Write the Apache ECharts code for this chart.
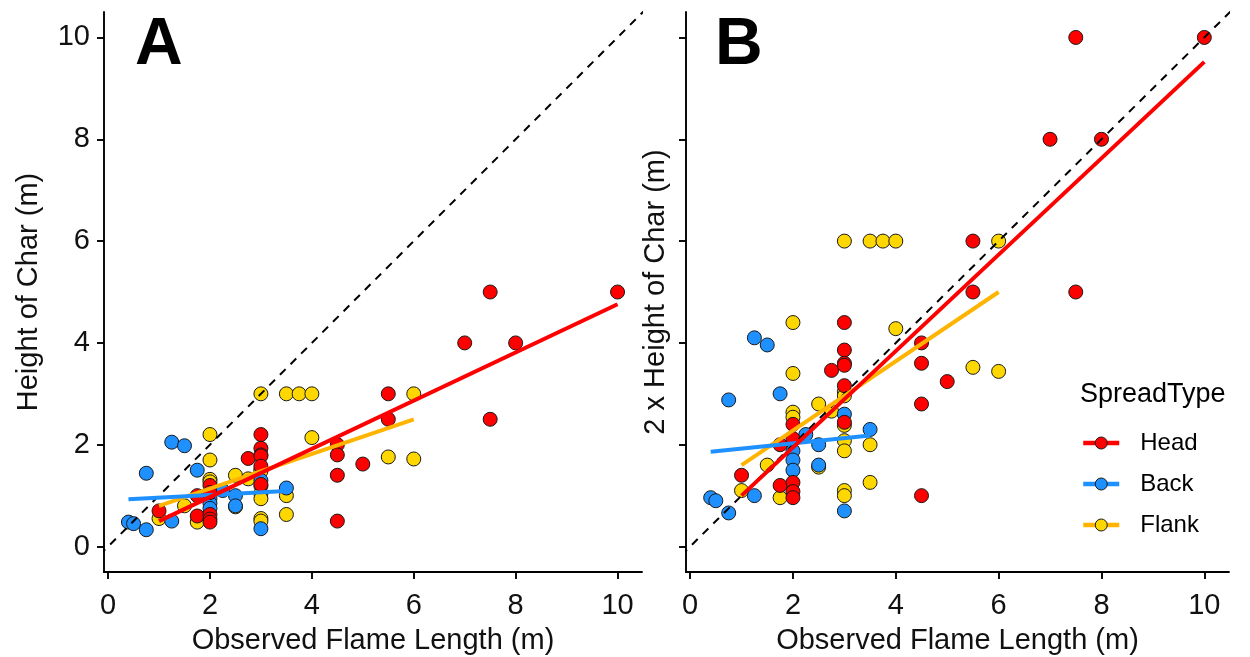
<!DOCTYPE html>
<html>
<head>
<meta charset="utf-8">
<script src="https://cdn.jsdelivr.net/npm/echarts@6/dist/echarts.min.js"></script>
<style>
html, body { margin: 0; padding: 0; background: #fff; }
#chart { width: 1250px; height: 657px; }
</style>
</head>
<body>
<div id="chart"></div>
<script>
// tick labels
var xTicks = [0, 2, 4, 6, 8, 10];
var yTicks = [0, 2, 4, 6, 8, 10];

// observed flame length (m) and height of char (m), by spread type
var headX = [1, 1.75, 1.75, 2, 2, 2, 2, 2, 2.75, 3, 3, 3, 3, 3, 3, 4.5, 4.5, 4.5, 4.5, 5, 5.5, 5.5, 7, 7.5, 7.5, 8, 10];
var headH = [0.7, 1.0, 0.6, 1.2, 1.06, 0.63, 0.54, 0.48, 1.73, 2.2, 1.93, 1.8, 1.78, 1.58, 1.22, 2.0, 1.8, 1.4, 0.5, 1.62, 3, 2.5, 4, 5, 2.5, 4, 5];

var backX = [0.4, 0.5, 0.75, 0.75, 1.25, 1.5, 1.25, 1.75, 2, 2, 2, 2.25, 2.5, 2.5, 3, 3, 3.5];
var backH = [0.48, 0.45, 0.33, 1.44, 2.05, 1.98, 0.5, 1.5, 0.94, 0.85, 0.75, 1.1, 1.0, 0.8, 1.3, 0.35, 1.15];

var flankX = [1, 1.5, 1.75, 2, 2, 2, 2, 2.5, 2.5, 2.75, 3, 3, 3, 3, 3, 3, 3, 3, 3.5, 3.75, 4, 3.5, 3.5, 4, 5.5, 6, 6];
var flankH = [0.55, 0.8, 0.48, 2.2, 1.7, 1.32, 1.27, 1.4, 0.78, 1.33, 3, 1.52, 1.48, 1.19, 1.04, 0.94, 0.55, 0.5, 3, 3, 3, 1.0, 0.63, 2.14, 1.76, 1.72, 3];

// linear fits (end points)
var headFitX = [1, 10];
var headFitH = [0.5, 4.76];
var backFitX = [0.4, 3.5];
var backFitH = [0.93, 1.09];
var flankFitX = [1, 6];
var flankFitH = [0.8, 2.5];

// 1:1 reference line
var refX = [-1, 12];

var font = "'Liberation Sans', Arial, sans-serif";

var groups = [
    {name: 'Flank', x: flankX, h: flankH, fx: flankFitX, fh: flankFitH, fill: '#FFD700', line: '#FFB400'},
    {name: 'Back', x: backX, h: backH, fx: backFitX, fh: backFitH, fill: '#1E90FF', line: '#1E90FF'},
    {name: 'Head', x: headX, h: headH, fx: headFitX, fh: headFitH, fill: '#FF0000', line: '#FF0000'}
];

function pairs(xs, hs, k) {
    return xs.map(function (x, i) { return [x, hs[i] * k]; });
}

function xAx(idx) {
    return {
        gridIndex: idx, type: 'value', min: -0.08, max: 10.48,
        name: 'Observed Flame Length (m)', nameLocation: 'middle', nameGap: 54,
        nameTextStyle: {fontSize: 29, color: '#111', fontFamily: font},
        axisLine: {onZero: false, lineStyle: {color: '#000', width: 1.9}},
        axisTick: {length: 7, customValues: xTicks, lineStyle: {color: '#000', width: 1.9}},
        axisLabel: {customValues: xTicks, fontSize: 29, color: '#111', margin: 19, fontFamily: font},
        splitLine: {show: false}
    };
}

function yAx(idx, title, gap, labels) {
    return {
        gridIndex: idx, type: 'value', min: -0.5, max: 10.5,
        name: title, nameLocation: 'middle', nameGap: gap, nameRotate: 90,
        nameTextStyle: {fontSize: 29, color: '#111', fontFamily: font},
        axisLine: {onZero: false, lineStyle: {color: '#000', width: 1.9}},
        axisTick: {length: 7, customValues: yTicks, lineStyle: {color: '#000', width: 1.9}},
        axisLabel: {show: labels, customValues: yTicks, fontSize: 29, color: '#111', margin: 14, fontFamily: font},
        splitLine: {show: false}
    };
}

var series = [];
[0, 1].forEach(function (p) {
    var k = p === 0 ? 1 : 2;
    groups.forEach(function (g) {
        series.push({
            type: 'scatter', xAxisIndex: p, yAxisIndex: p,
            data: pairs(g.x, g.h, k), symbolSize: 14, z: 2,
            itemStyle: {color: g.fill, borderColor: '#1a1a1a', borderWidth: 1, opacity: 1}
        });
    });
    series.push({
        type: 'line', xAxisIndex: p, yAxisIndex: p, silent: true,
        data: pairs(refX, refX, 1), symbol: 'none', z: 3,
        lineStyle: {color: '#000', width: 2, type: [8, 7]}
    });
    groups.forEach(function (g) {
        series.push({
            name: g.name, type: 'line', xAxisIndex: p, yAxisIndex: p,
            data: pairs(g.fx, g.fh, k), showSymbol: false, symbol: 'circle', z: 4,
            itemStyle: {color: g.fill},
            lineStyle: {color: g.line, width: 4}
        });
    });
});

var legendItems = [groups[2], groups[1], groups[0]].map(function (g) {
    return {
        name: g.name,
        itemStyle: {color: g.fill, borderColor: '#1a1a1a', borderWidth: 1},
        lineStyle: {color: g.line, width: 4.5}
    };
});

var chart = echarts.init(document.getElementById('chart'));
chart.setOption({
    animation: false,
    backgroundColor: '#fff',
    textStyle: {fontFamily: font},
    title: [
        {text: 'A', left: 135, top: 13, padding: 0, textStyle: {fontSize: 66, fontWeight: 'bold', color: '#000', fontFamily: font}},
        {text: 'B', left: 715, top: 13, padding: 0, textStyle: {fontSize: 66, fontWeight: 'bold', color: '#000', fontFamily: font}},
        {text: 'SpreadType', left: 1080, top: 381, padding: 0, textStyle: {fontSize: 27, fontWeight: 'normal', color: '#000', fontFamily: font}}
    ],
    legend: {
        data: legendItems, orient: 'vertical', left: 1076, top: 426,
        itemWidth: 36, itemHeight: 15, itemGap: 17, selectedMode: false,
        textStyle: {fontSize: 24, color: '#000', fontFamily: font, lineHeight: 24, padding: [0, 0, 0, 16]}
    },
    grid: [
        {left: 104, top: 12, width: 538, height: 560, outerBoundsMode: 'none'},
        {left: 686, top: 12, width: 543, height: 560, outerBoundsMode: 'none'}
    ],
    xAxis: [xAx(0), xAx(1)],
    yAxis: [yAx(0, 'Height of Char (m)', 61, true), yAx(1, '2 x Height of Char (m)', 16, false)],
    series: series
});
</script>
</body>
</html>
